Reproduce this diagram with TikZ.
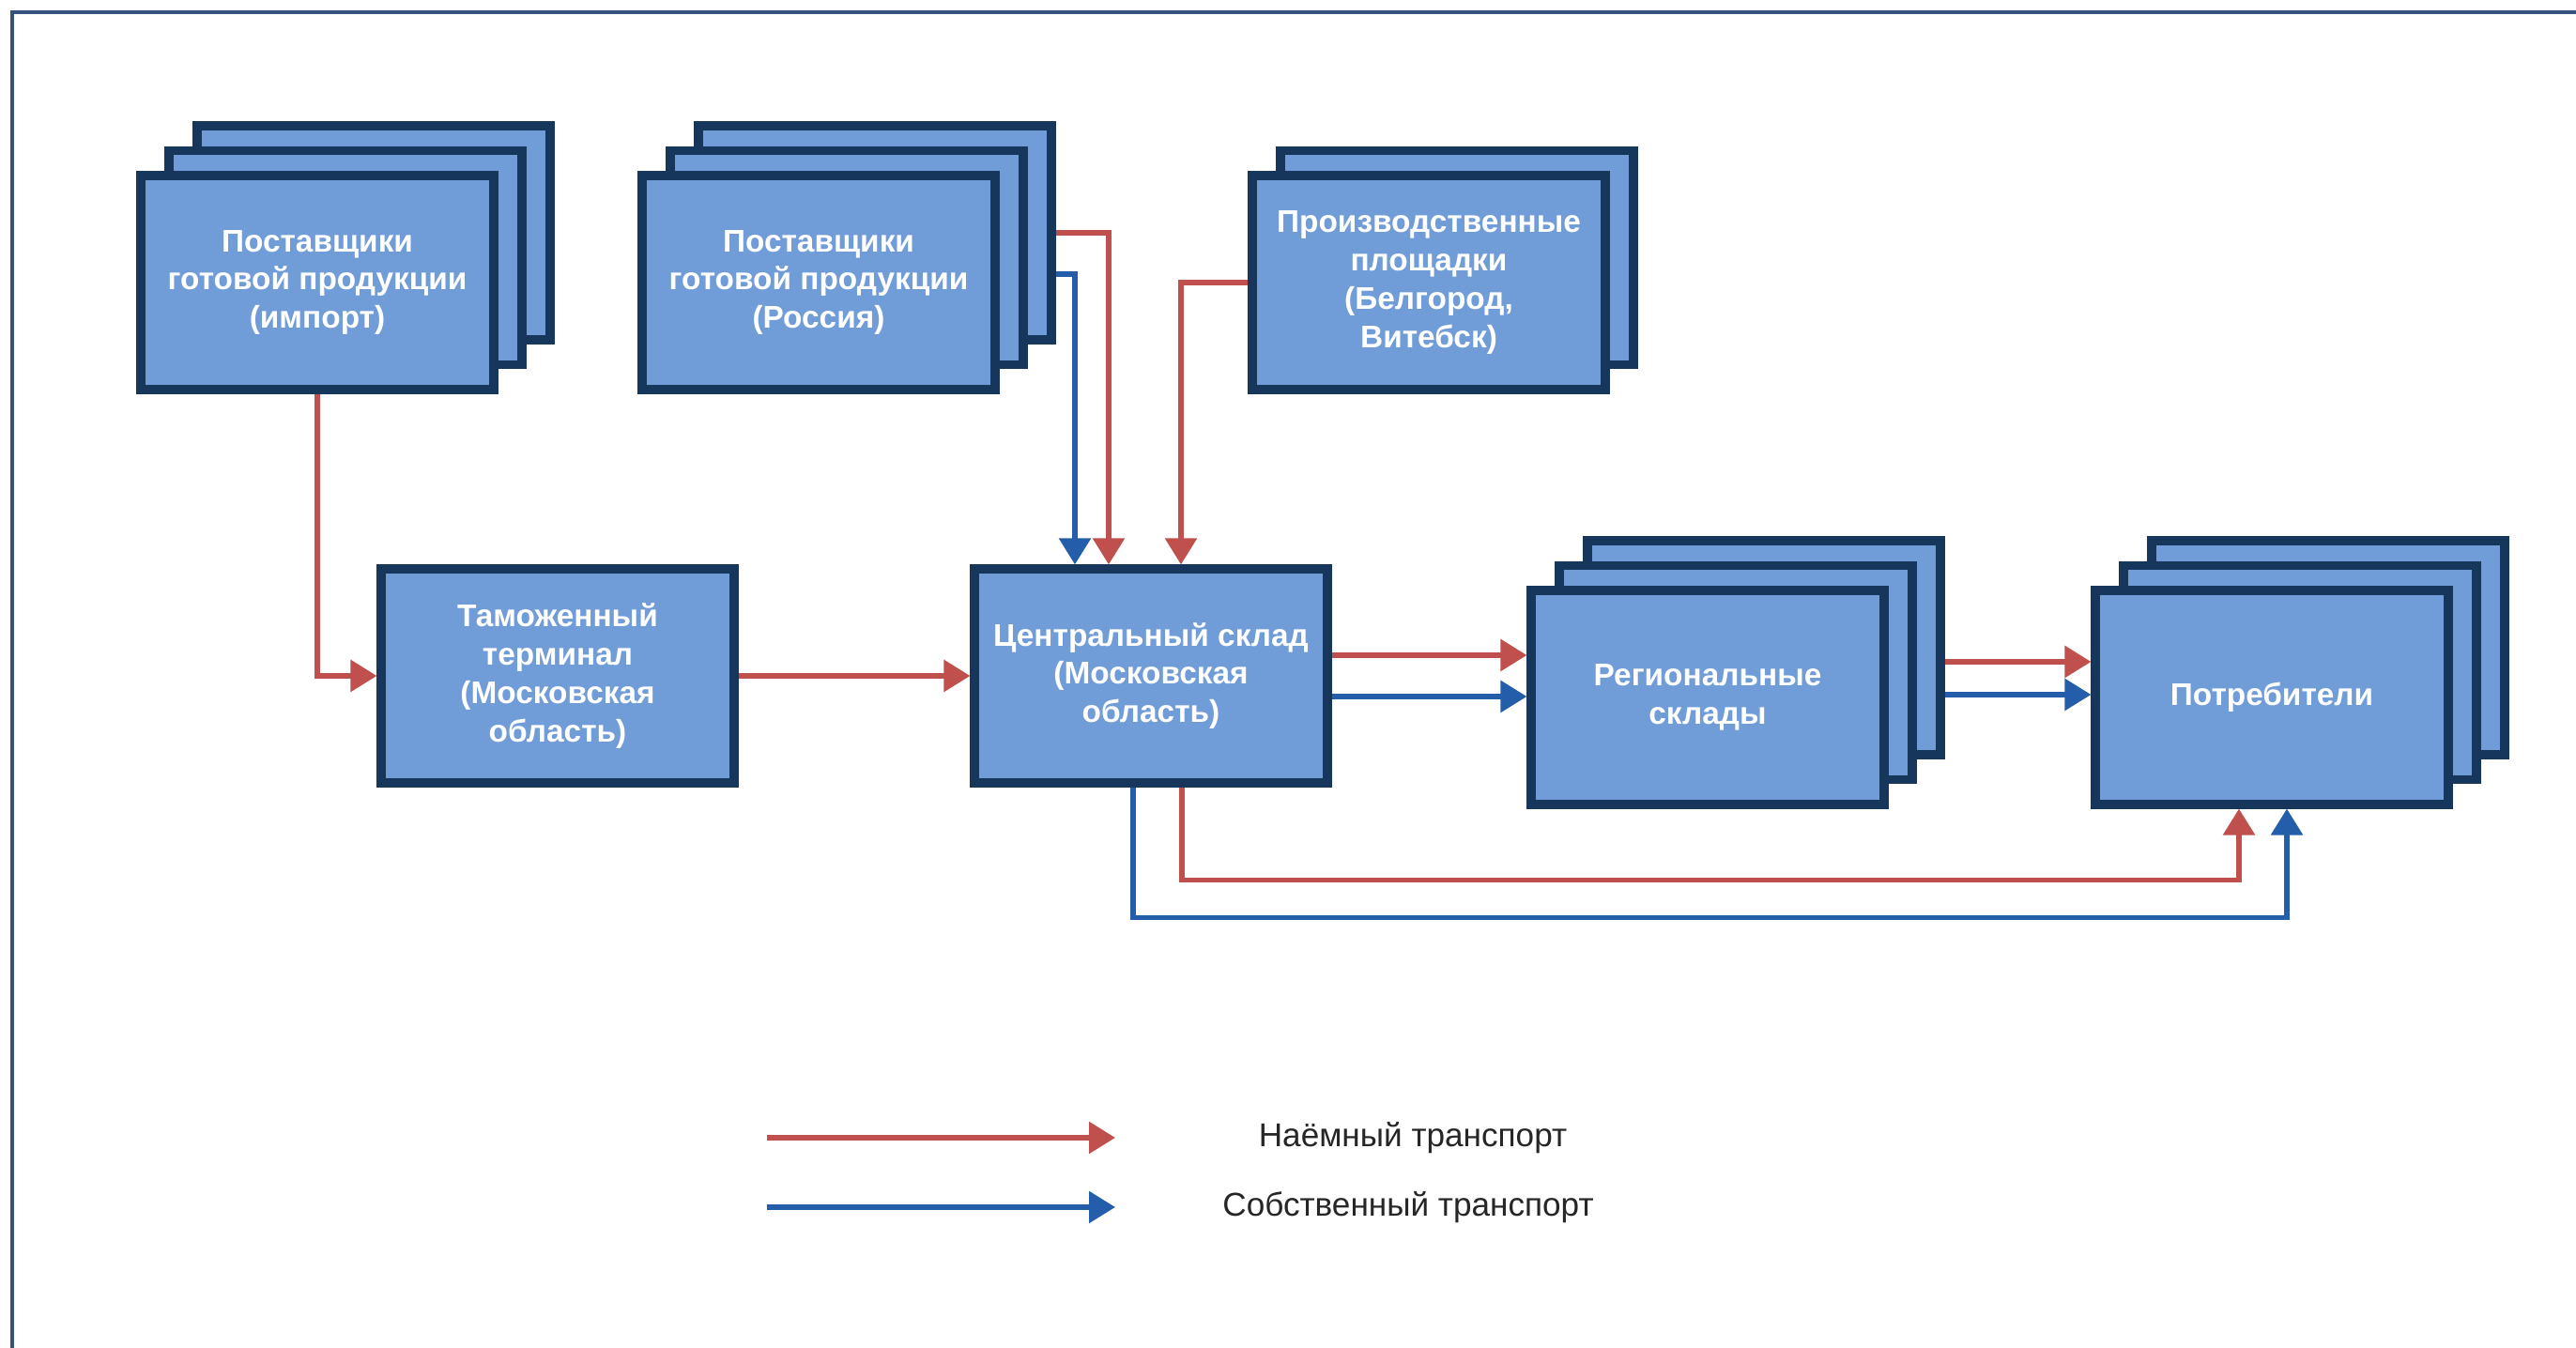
\documentclass[tikz,border=0pt]{standalone}
\usepackage{fontspec}
\setmainfont{Liberation Sans}
\usetikzlibrary{arrows.meta}

\definecolor{boxfill}{RGB}{112,156,216}
\definecolor{boxline}{RGB}{22,54,92}
\definecolor{hiredred}{RGB}{192,80,77}
\definecolor{ownblue}{RGB}{36,94,170}
\definecolor{frameline}{RGB}{54,82,124}

\tikzset{
  panel/.style={draw=boxline,fill=boxfill,line width=2.6pt,minimum width=3.76cm,
    minimum height=2.28cm,inner sep=0pt,align=center,text=white,
    font=\fontsize{9.5}{11.6}\selectfont\bfseries},
  hired/.style={draw=hiredred,line width=1.6pt,-{Triangle[length=0.28cm,width=0.33cm]}},
  own/.style={draw=ownblue,line width=1.6pt,-{Triangle[length=0.28cm,width=0.33cm]}},
  legtext/.style={font=\fontsize{10}{12}\selectfont,text=black!85},
}

\begin{document}
\begin{tikzpicture}[>=Stealth]
  \useasboundingbox[fill=white] (0,0) rectangle (27.44,14.36);
  \draw[frameline,line width=1pt] (0.13,0) -- (0.13,14.23) -- (27.44,14.23);

  \node[panel] (imp3) at (3.98,11.88) {};
  \node[panel] (imp2) at (3.68,11.615) {};
  \node[panel] (imp1) at (3.38,11.35) {Поставщики\\готовой продукции\\(импорт)};

  \node[panel] (ru3) at (9.32,11.88) {};
  \node[panel] (ru2) at (9.02,11.615) {};
  \node[panel] (ru1) at (8.72,11.35) {Поставщики\\готовой продукции\\(Россия)};

  \node[panel] (pr2) at (15.52,11.615) {};
  \node[panel] (pr1) at (15.22,11.35) {Производственные\\площадки\\(Белгород,\\Витебск)};

  \node[panel] (cust) at (5.94,7.16) {Таможенный\\терминал\\(Московская\\область)};
  \node[panel] (cent) at (12.26,7.16) {Центральный склад\\(Московская\\область)};

  \node[panel] (reg3) at (18.79,7.46) {};
  \node[panel] (reg2) at (18.49,7.195) {};
  \node[panel] (reg1) at (18.19,6.93) {Региональные\\склады};

  \node[panel] (con3) at (24.80,7.46) {};
  \node[panel] (con2) at (24.50,7.195) {};
  \node[panel] (con1) at (24.20,6.93) {Потребители};

  \draw[hired] (imp1.south) |- (cust.west);
  \draw[hired] (cust.east) -- (cent.west);
  \draw[hired] (ru3.east) -| ([xshift=-0.45cm]cent.north);
  \draw[own] ([yshift=-0.44cm]ru3.east) -| ([xshift=-0.81cm]cent.north);
  \draw[hired] (pr1.west) -| ([xshift=0.32cm]cent.north);

  \draw[hired] ([yshift=0.22cm]cent.east) -- ([yshift=0.22cm]cent.east -| reg1.west);
  \draw[own] ([yshift=-0.22cm]cent.east) -- ([yshift=-0.22cm]cent.east -| reg1.west);
  \draw[hired] ([yshift=-0.15cm]reg3.east) -- ([yshift=-0.15cm]reg3.east -| con1.west);
  \draw[own] ([yshift=-0.50cm]reg3.east) -- ([yshift=-0.50cm]reg3.east -| con1.west);

  \draw[hired] ([xshift=0.33cm]cent.south) -- ++(0,-0.99) -| ([xshift=-0.35cm]con1.south);
  \draw[own] ([xshift=-0.19cm]cent.south) -- ++(0,-1.39) -| ([xshift=0.16cm]con1.south);

  \coordinate (hl0) at (8.17,2.24);
  \coordinate (hl1) at (11.88,2.24);
  \coordinate (ol0) at (8.17,1.50);
  \coordinate (ol1) at (11.88,1.50);
  \draw[hired] (hl0) -- (hl1);
  \draw[own] (ol0) -- (ol1);
  \node[legtext] (hltx) at (15.05,2.24) {Наёмный транспорт};
  \node[legtext] (oltx) at (15.00,1.50) {Собственный транспорт};
\end{tikzpicture}
\end{document}
